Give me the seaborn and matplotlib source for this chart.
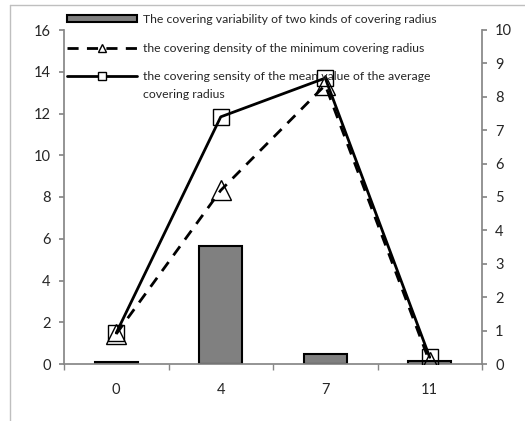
import numpy as np
import pandas as pd
import matplotlib
matplotlib.use("Agg")
import matplotlib.pyplot as plt
import seaborn as sns
from matplotlib.patches import Patch
from matplotlib.lines import Line2D

categories = ["0", "4", "7", "11"]
variability = [0.08, 5.65, 0.5, 0.15]
density_min = [0.9, 5.2, 8.35, 0.05]
density_mean = [0.93, 7.4, 8.56, 0.2]
labels = ["The covering variability of two kinds of covering radius",
          "the covering density of the minimum covering radius",
          "the covering sensity of the mean value of the average"]
label_cont = "covering radius"
left_ticks = list(range(0, 17, 2))
right_ticks = list(range(0, 11))

sns.set_theme(style="white")
plt.rcParams['font.family'] = ['Lato', 'DejaVu Sans']

fig = plt.figure(figsize=(5.25, 4.21), dpi=100)
ax = fig.add_axes([64/525, 1-364/421, 418/525, 334/421])
ax2 = ax.twinx()

df = pd.DataFrame({"cat": categories, "var": variability})
sns.barplot(data=df, x="cat", y="var", ax=ax, color="#808080", width=0.41,
            edgecolor="black", linewidth=1.5, saturation=1)
idx = np.arange(len(categories))
sns.lineplot(x=idx, y=density_min, ax=ax2, color="black", linestyle=(0, (4, 3)),
             linewidth=2, marker="^", markersize=15, markerfacecolor="none",
             markeredgecolor="black", markeredgewidth=1)
sns.lineplot(x=idx, y=density_mean, ax=ax2, color="black", linestyle="-",
             linewidth=2, marker="s", markersize=12, markerfacecolor="none",
             markeredgecolor="black", markeredgewidth=1)

ax.set_xlim(-0.5, 3.5)
ax.set_ylim(0, 16)
ax2.set_ylim(0, 10)
ax.set_yticks(left_ticks)
ax2.set_yticks(right_ticks)
ax.set_xticks(idx)
ax.set_xticklabels(categories)
ax.set_xlabel("")
ax.set_ylabel("")
ax2.set_ylabel("")

gray = "#868686"
for a in (ax, ax2):
    for s in a.spines.values():
        s.set_visible(False)
ax.spines["left"].set_visible(True)
ax.spines["left"].set_color(gray)
ax.spines["bottom"].set_visible(True)
ax.spines["bottom"].set_color(gray)
ax2.spines["right"].set_visible(True)
ax2.spines["right"].set_color(gray)

ax.tick_params(axis="y", left=True, length=3.5, color=gray, labelsize=10.5, pad=6)
ax2.tick_params(axis="y", right=True, length=3.5, color=gray, labelsize=10.5, pad=6)
ax.tick_params(axis="x", bottom=False, labelsize=10.5, pad=8)
ax.set_xticks(np.arange(-0.5, 4, 1), minor=True)
ax.tick_params(axis="x", which="minor", bottom=True, length=4, color=gray)
ax.grid(False)
ax2.grid(False)

handles = [Patch(facecolor="#808080", edgecolor="black", linewidth=1.5),
           Line2D([], [], color="black", linestyle=(0, (4, 3)), linewidth=2,
                  marker="^", markersize=6, markerfacecolor="white", markeredgecolor="black"),
           Line2D([], [], color="black", linestyle="-", linewidth=2,
                  marker="s", markersize=6, markerfacecolor="white", markeredgecolor="black")]
leg = fig.legend(handles, labels, loc="upper left", bbox_to_anchor=(62/525, 1-9/421),
                 frameon=False, fontsize=8.8, handlelength=5.7, handleheight=0.5,
                 handletextpad=0.55, labelspacing=1.45, borderaxespad=0)

fig.add_artist(Line2D([10/525, 1], [1-5/421, 1-5/421], color="#bfbfbf", linewidth=1))
fig.add_artist(Line2D([10/525, 10/525], [1-5/421, 0], color="#bfbfbf", linewidth=1))

fig.canvas.draw()
bb = leg.get_texts()[2].get_window_extent()
fig.text(bb.x0 / fig.bbox.width, (bb.y0 - 18) / fig.bbox.height, label_cont,
         fontsize=8.8, ha="left", va="bottom")

fig.savefig("out.png", dpi=100)
